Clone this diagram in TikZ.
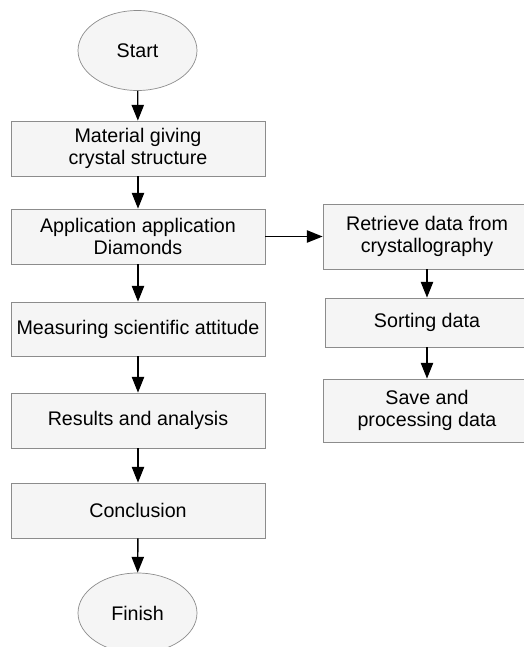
\documentclass[tikz,border=0pt]{standalone}
\usepackage{fontspec}
\setmainfont{Liberation Sans}
\usepackage{xcolor}
\usepackage{tikz}
\usetikzlibrary{shapes.geometric, arrows.meta}
\definecolor{boxFill}{HTML}{F5F5F5}
\definecolor{boxLine}{HTML}{8C8C8C}
\newlength{\pxu}
\setlength{\pxu}{0.02cm}

\tikzset{
    stepbox/.style={draw=boxLine, fill=boxFill, rectangle, align=center,
        inner sep=0pt, font=\fontsize{11.2}{12.4}\selectfont},
    terminal/.style={draw=boxLine, fill=boxFill, ellipse, inner sep=0pt,
        minimum width=119\pxu, minimum height=80\pxu,
        font=\fontsize{11.2}{12.4}\selectfont},
    flow/.style={-{Triangle[length=9pt,width=7pt]}, thick, black},
}

\begin{document}
\begin{tikzpicture}[x=0.02cm, y=-0.02cm]
    \useasboundingbox (0,0) rectangle (524,647);
    % main column
    \node[terminal] (start) at (137.5,50.5) {Start};
    \node[stepbox, minimum width=254\pxu, minimum height=55\pxu] (material) at (138,148.5)
        {Material giving\\crystal structure};
    \node[stepbox, minimum width=254\pxu, minimum height=55\pxu] (apply) at (138,236.5)
        {Application application\\Diamonds};
    \node[stepbox, minimum width=254\pxu, minimum height=54\pxu] (measure) at (138,329)
        {Measuring scientific attitude};
    \node[stepbox, minimum width=254\pxu, minimum height=55\pxu] (results) at (138,420.5)
        {Results and analysis};
    \node[stepbox, minimum width=254\pxu, minimum height=55\pxu] (conclude) at (138,510.5)
        {Conclusion};
    \node[terminal] (finish) at (137.5,613) {Finish};
    % side branch
    \node[stepbox, minimum width=208\pxu, minimum height=65\pxu] (retrieve) at (427,236.5)
        {Retrieve data from\\crystallography};
    \node[stepbox, minimum width=204\pxu, minimum height=49\pxu] (sorting) at (427,322.5)
        {Sorting data};
    \node[stepbox, minimum width=208\pxu, minimum height=63\pxu] (save) at (427,410.5)
        {Save and\\processing data};

    \draw[flow] (start) -- (material);
    \draw[flow] (material) -- (apply);
    \draw[flow] (apply) -- (measure);
    \draw[flow] (measure) -- (results);
    \draw[flow] (results) -- (conclude);
    \draw[flow] (conclude) -- (finish);
    \draw[flow] (apply) -- (retrieve);
    \draw[flow] (retrieve) -- (sorting);
    \draw[flow] (sorting) -- (save);
\end{tikzpicture}
\end{document}
